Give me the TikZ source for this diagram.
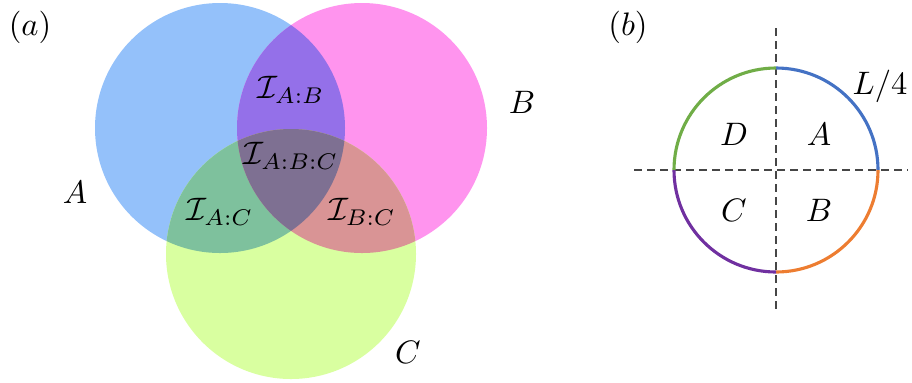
\documentclass[tikz,border=0pt]{standalone}
\usepackage{amssymb}
\definecolor{cA}{RGB}{148,193,250}
\definecolor{cB}{RGB}{255,148,238}
\definecolor{cC}{RGB}{217,255,160}
\definecolor{cAB}{RGB}{148,112,233}
\definecolor{cAC}{RGB}{126,193,157}
\definecolor{cBC}{RGB}{217,148,149}
\definecolor{cABC}{RGB}{126,112,146}
\definecolor{arcA}{RGB}{68,114,196}
\definecolor{arcB}{RGB}{237,125,49}
\definecolor{arcC}{RGB}{112,48,160}
\definecolor{arcD}{RGB}{112,173,71}
\definecolor{dashgray}{RGB}{70,70,70}
\tikzset{
  lbl/.style={inner sep=0pt, scale=1.3},
  axisline/.style={dashgray, line width=0.45pt, dash pattern=on 3.2pt off 2pt},
  quarc/.style={line width=1.25pt}
}
\begin{document}
\begin{tikzpicture}[x=0.4pt,y=-0.4pt]
\useasboundingbox (0,0) rectangle (912,382);
% circle definitions
\def\cA{(220,128) circle[radius=125]}
\def\cB{(362,128) circle[radius=125]}
\def\cC{(291,254) circle[radius=125]}
\fill[cA] \cA;
\fill[cB] \cB;
\fill[cC] \cC;
\begin{scope}
  \clip \cA; \fill[cAB] \cB;
\end{scope}
\begin{scope}
  \clip \cA; \fill[cAC] \cC;
\end{scope}
\begin{scope}
  \clip \cB; \fill[cBC] \cC;
\end{scope}
\begin{scope}
  \clip \cA; \clip \cB; \fill[cABC] \cC;
\end{scope}
% labels (a)
\node[lbl] (la) at (30,27) {$(a)$};
\node[lbl] (nA) at (75,192) {$A$};
\node[lbl] (nB) at (522,102) {$B$};
\node[lbl] (nC) at (408,352) {$C$};
\node[lbl] (iab) at (291,90) {$\mathcal{I}_{A:B}$};
\node[lbl] (iabc) at (291,156) {$\mathcal{I}_{A:B:C}$};
\node[lbl] (iac) at (220,212) {$\mathcal{I}_{A:C}$};
\node[lbl] (ibc) at (362,212) {$\mathcal{I}_{B:C}$};
% panel (b)
\node[lbl] (lb) at (628,27) {$(b)$};
\coordinate (O) at (776,170);
\coordinate (vt) at (776,28);
\coordinate (vb) at (776,313);
\coordinate (hl) at (634,170);
\coordinate (hr) at (908,170);
\draw[axisline] (vt) -- (vb);
\draw[axisline] (hl) -- (hr);
\draw[quarc, arcA] (878,170) arc[start angle=0, end angle=-90, radius=102];
\draw[quarc, arcB] (878,170) arc[start angle=0, end angle=90, radius=102];
\draw[quarc, arcC] (674,170) arc[start angle=180, end angle=90, radius=102];
\draw[quarc, arcD] (674,170) arc[start angle=180, end angle=270, radius=102];
\node[lbl] (qD) at (734,134) {$D$};
\node[lbl] (qA) at (819,134) {$A$};
\node[lbl] (qC) at (734,210) {$C$};
\node[lbl] (qB) at (819,210) {$B$};
\node[lbl] (qL) at (880,86) {$L/4$};
\end{tikzpicture}
\end{document}
